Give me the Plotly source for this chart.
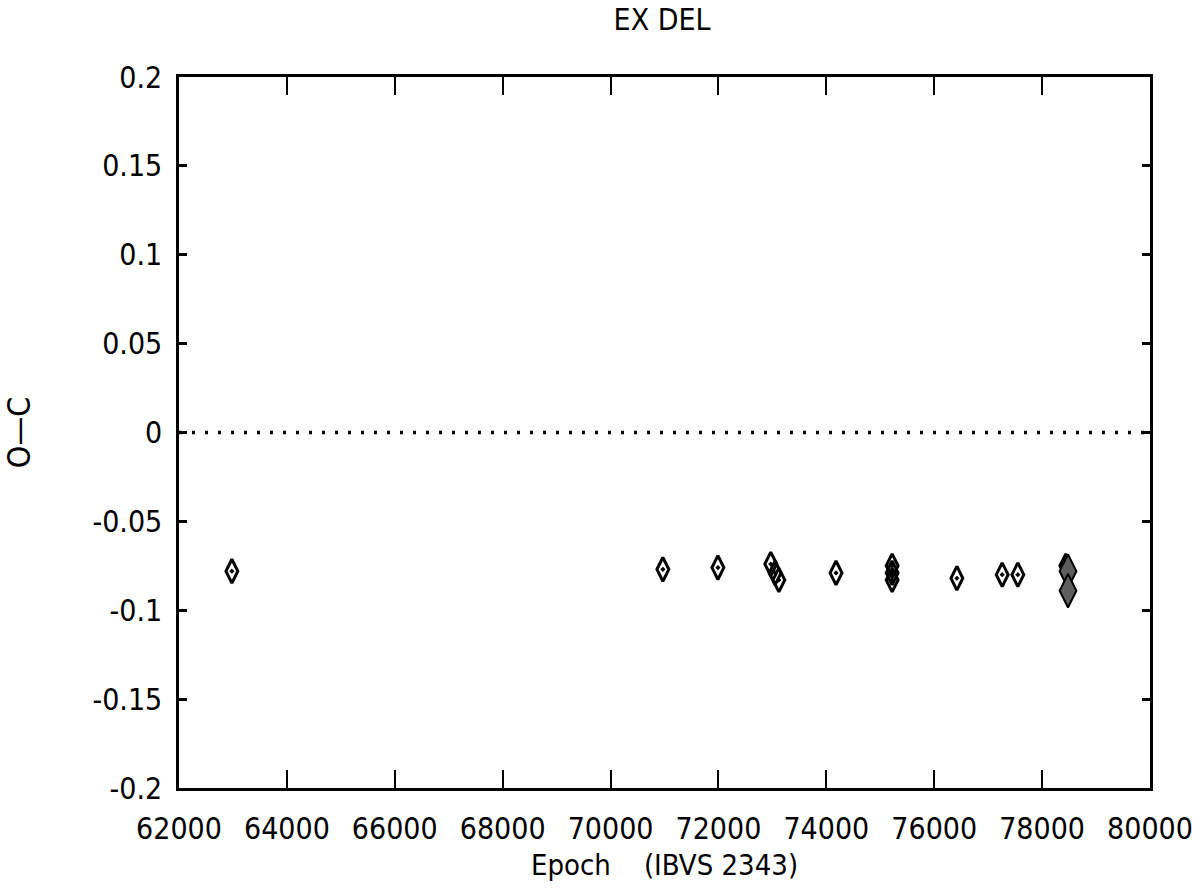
import plotly.graph_objects as go

# O-C residuals for EX Del (epochs from IBVS 2343)
epoch_open = [62980, 70970, 71990, 72970, 73050, 73120, 74180,
              75220, 75220, 75220, 76420, 77260, 77550, 78440]
oc_open = [-0.078, -0.077, -0.076, -0.074, -0.079, -0.083, -0.079,
           -0.075, -0.079, -0.083, -0.082, -0.080, -0.080, -0.075]

epoch_filled = [78480, 78480]
oc_filled = [-0.078, -0.089]

x_ticks = [62000, 64000, 66000, 68000, 70000, 72000, 74000, 76000, 78000, 80000]
x_ticktext = ["62000", "64000", "66000", "68000", "70000", "72000", "74000",
              "76000", "78000", "80000"]
y_ticks = [0.2, 0.15, 0.1, 0.05, 0, -0.05, -0.1, -0.15, -0.2]
y_ticktext = ["0.2", "0.15", "0.1", "0.05", "0", "-0.05", "-0.1", "-0.15", "-0.2"]

FONT = "DejaVu Sans Condensed, Liberation Sans Narrow, DejaVu Sans, sans-serif"

fig = go.Figure()

fig.add_trace(go.Scatter(
    x=epoch_open, y=oc_open, mode="markers",
    marker=dict(symbol="diamond-tall-open-dot", size=17, color="black",
                line=dict(color="black", width=3)),
    showlegend=False,
))
fig.add_trace(go.Scatter(
    x=epoch_filled, y=oc_filled, mode="markers",
    marker=dict(symbol="diamond-tall", size=24, color="#5e5e5e",
                line=dict(color="black", width=2)),
    showlegend=False,
))

# zero reference line
fig.add_hline(y=0, line=dict(color="black", width=3.5, dash="3px,10px"))

fig.update_layout(
    width=1193, height=891,
    margin=dict(l=179, r=43, t=77, b=103),
    paper_bgcolor="white", plot_bgcolor="white",
    font=dict(family=FONT, color="black", size=30),
    title=dict(text="EX DEL", x=0.555, xanchor="center", y=0.99, yanchor="top",
               font=dict(family=FONT, size=30, color="black")),
)

fig.update_xaxes(
    range=[62000, 80000], tickvals=x_ticks, ticktext=x_ticktext,
    ticks="inside", ticklen=18, tickwidth=1.5, tickcolor="black",
    showline=True, linewidth=3, linecolor="black", mirror="ticks",
    showgrid=False, zeroline=False, automargin=False, tickangle=0,
    tickfont=dict(family=FONT, size=30), ticklabelstandoff=12,
    title=dict(text="Epoch&nbsp;&nbsp;&nbsp;&nbsp;(IBVS 2343)", standoff=10,
               font=dict(family=FONT, size=29)),
)
fig.update_yaxes(
    range=[-0.2, 0.2], tickvals=y_ticks, ticktext=y_ticktext,
    ticks="inside", ticklen=8, tickwidth=3, tickcolor="black",
    showline=True, linewidth=2.5, linecolor="black", mirror="ticks",
    showgrid=False, zeroline=False, automargin=False,
    tickfont=dict(family=FONT, size=30), ticklabelstandoff=8,
    title=dict(text="O—C", standoff=60, font=dict(family=FONT, size=32)),
)

fig.write_html("out.html")
